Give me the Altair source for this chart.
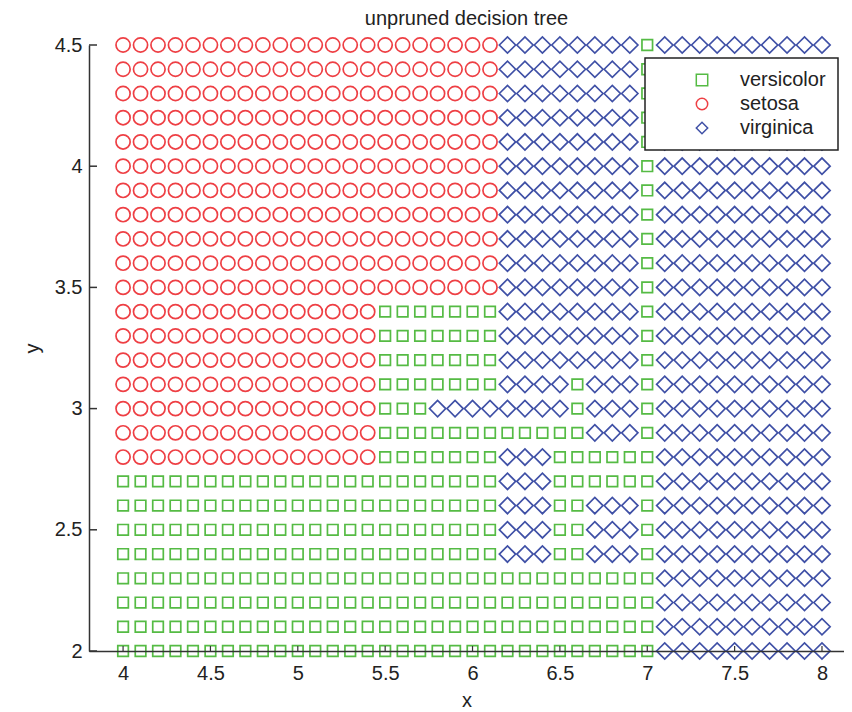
import altair as alt
import pandas as pd

# grid columns (x) and rows (y)
x_values = [4.0, 4.1, 4.2, 4.3, 4.4, 4.5, 4.6, 4.7, 4.8, 4.9,
            5.0, 5.1, 5.2, 5.3, 5.4, 5.5, 5.6, 5.7, 5.8, 5.9,
            6.0, 6.1, 6.2, 6.3, 6.4, 6.5, 6.6, 6.7, 6.8, 6.9,
            7.0, 7.1, 7.2, 7.3, 7.4, 7.5, 7.6, 7.7, 7.8, 7.9, 8.0]
y_values = [4.5, 4.4, 4.3, 4.2, 4.1, 4.0, 3.9, 3.8, 3.7, 3.6, 3.5,
            3.4, 3.3, 3.2, 3.1, 3.0, 2.9, 2.8, 2.7, 2.6, 2.5, 2.4,
            2.3, 2.2, 2.1, 2.0]
# predicted class along each row, left to right, as (class, number of cells)
# O = setosa, S = versicolor, D = virginica
TOP = [("O", 22), ("D", 8), ("S", 1), ("D", 10)]
MID = [("O", 15), ("S", 7), ("D", 8), ("S", 1), ("D", 10)]
LOWA = [("S", 22), ("D", 3), ("S", 2), ("D", 3), ("S", 1), ("D", 10)]
BOT = [("S", 31), ("D", 10)]
class_runs = [
    TOP, TOP, TOP, TOP, TOP, TOP, TOP, TOP, TOP, TOP, TOP,      # 4.5 .. 3.5
    MID, MID, MID,                                             # 3.4 .. 3.2
    [("O", 15), ("S", 7), ("D", 4), ("S", 1), ("D", 3), ("S", 1), ("D", 10)],  # 3.1
    [("O", 15), ("S", 3), ("D", 8), ("S", 1), ("D", 3), ("S", 1), ("D", 10)],  # 3.0
    [("O", 15), ("S", 12), ("D", 3), ("S", 1), ("D", 10)],                    # 2.9
    [("O", 15), ("S", 7), ("D", 3), ("S", 6), ("D", 10)],                     # 2.8
    [("S", 22), ("D", 3), ("S", 6), ("D", 10)],                               # 2.7
    LOWA, LOWA, LOWA,                                          # 2.6 .. 2.4
    BOT, BOT, BOT, BOT,                                        # 2.3 .. 2.0
]
class_names = ["versicolor", "setosa", "virginica"]
class_codes = {"S": "versicolor", "O": "setosa", "D": "virginica"}
class_colors = ["#55bb44", "#ee3f44", "#3f50a6"]
class_shapes = ["square", "circle", "diamond"]
class_sizes = [112, 200, 265]

x_ticks = [4, 4.5, 5, 5.5, 6, 6.5, 7, 7.5, 8]
y_ticks = [2, 2.5, 3, 3.5, 4, 4.5]

rows = []
for yv, runs in zip(y_values, class_runs):
    labels = []
    for code, n in runs:
        labels.extend([class_codes[code]] * n)
    for xv, c in zip(x_values, labels):
        rows.append({"x": xv, "y": yv, "cls": c})
df = pd.DataFrame(rows)

W, H = 755, 606
FONT = "Liberation Sans"
FS = 20
xscale = alt.Scale(domain=[3.805, 8.126], nice=False, zero=False)
yscale = alt.Scale(domain=[2, 4.5], nice=False, zero=False)

color = alt.Color("cls:N", scale=alt.Scale(domain=class_names, range=class_colors),
                  legend=alt.Legend(title=None))
shape = alt.Shape("cls:N", scale=alt.Scale(domain=class_names, range=class_shapes),
                  legend=alt.Legend(title=None))

layers = []
for name, size in zip(class_names, class_sizes):
    layers.append(
        alt.Chart(df).transform_filter(alt.datum.cls == name)
        .mark_point(filled=False, size=size, strokeWidth=1.7, opacity=1)
        .encode(
            x=alt.X("x:Q", scale=xscale, title="x",
                    axis=alt.Axis(values=x_ticks, format="~g", ticks=False, labelPadding=12,
                                  titlePadding=7, zindex=1)),
            y=alt.Y("y:Q", scale=yscale, title="y",
                    axis=alt.Axis(values=y_ticks, format="~g", ticks=False, labelPadding=7,
                                  titlePadding=12, zindex=1)),
            color=color,
            shape=shape,
        )
    )

xt = pd.DataFrame({"x": x_ticks})
yt = pd.DataFrame({"y": y_ticks})
xtick_layer = alt.Chart(xt).mark_rule(color="#333", strokeWidth=1.2).encode(
    x=alt.X("x:Q", scale=xscale), y=alt.value(H), y2=alt.value(H - 5))
ytick_layer = alt.Chart(yt).mark_rule(color="#333", strokeWidth=1.5).encode(
    y=alt.Y("y:Q", scale=yscale), x=alt.value(0), x2=alt.value(8))

chart = alt.layer(*layers, xtick_layer, ytick_layer).properties(
    width=W, height=H,
    title=alt.TitleParams("unpruned decision tree", fontSize=FS, fontWeight="normal",
                          font=FONT, color="#222", offset=4),
    autosize=alt.AutoSizeParams(type="none"),
    padding={"left": 81, "top": 37, "right": 0, "bottom": 60},
).configure_view(stroke=None).configure_axis(
    grid=False, domainColor="#333", domainWidth=1.5,
    labelFont=FONT, labelFontSize=FS, labelColor="#222",
    titleFont=FONT, titleFontSize=FS, titleFontWeight="normal", titleColor="#222",
).configure_legend(
    orient="none", legendX=556, legendY=13,
    strokeColor="#222", strokeWidth=1.5, fillColor="white",
    padding=12, symbolSize=130, symbolStrokeWidth=1.5,
    symbolOffset=35, labelOffset=28, rowPadding=4,
    labelFont=FONT, labelFontSize=FS, labelColor="#222", labelLimit=200,
)

chart.save("out.html", embed_options={"renderer": "svg", "actions": False})
